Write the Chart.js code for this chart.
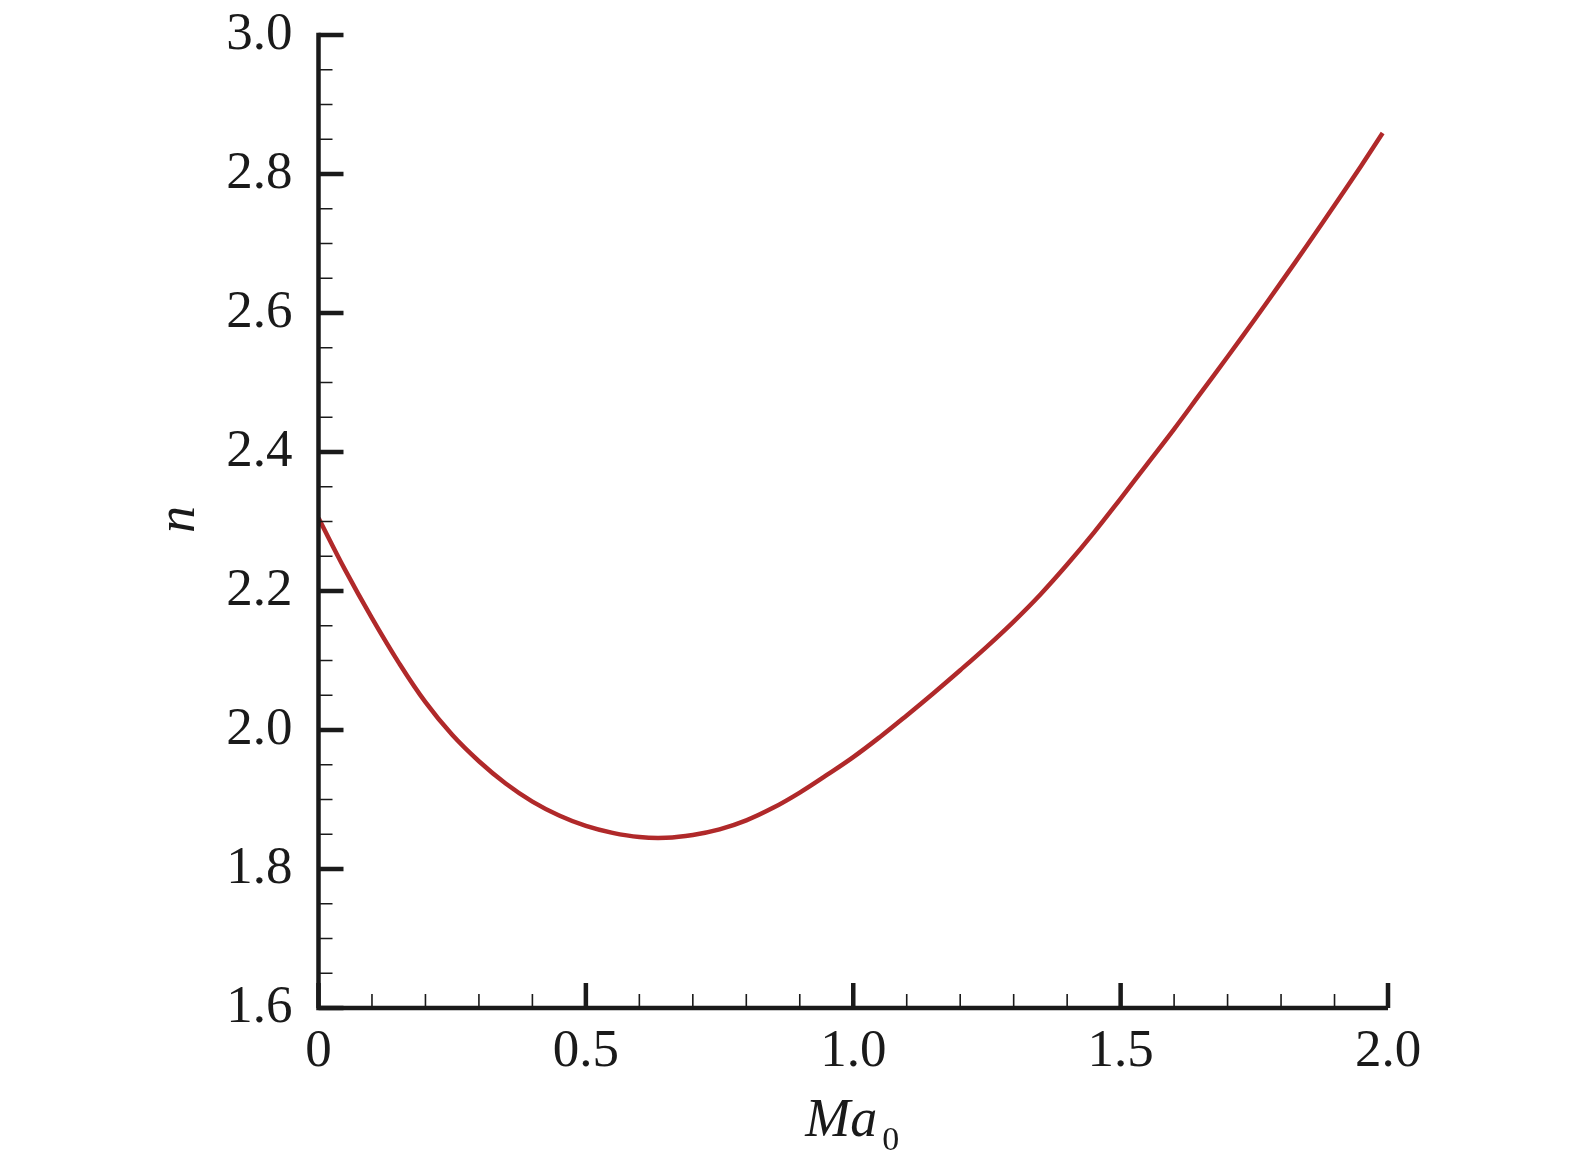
<!DOCTYPE html>
<html>
<head>
<meta charset="utf-8">
<script src="https://cdn.jsdelivr.net/npm/chart.js@4/dist/chart.umd.min.js"></script>
<style>
  html, body { margin: 0; padding: 0; background: #ffffff; }
  #wrap { width: 1575px; height: 1173px; }
</style>
</head>
<body>
<div id="wrap"><canvas id="c" width="1575" height="1173"></canvas></div>
<script>
// ---- data ----
const maValues = [0, 0.05, 0.1, 0.15, 0.2, 0.25, 0.3, 0.35, 0.4, 0.45, 0.5, 0.55, 0.6, 0.65, 0.7, 0.75, 0.8, 0.85, 0.9, 0.95,
                  1.0, 1.05, 1.1, 1.15, 1.2, 1.25, 1.3, 1.35, 1.4, 1.45, 1.5, 1.55, 1.6, 1.65, 1.7, 1.75, 1.8, 1.85, 1.9, 1.95, 1.99];
const nValues  = [2.305, 2.230, 2.161, 2.097, 2.040, 1.993, 1.955, 1.923, 1.897, 1.877, 1.862, 1.852, 1.846, 1.845, 1.849, 1.857, 1.870, 1.888, 1.910, 1.935,
                  1.961, 1.990, 2.021, 2.053, 2.086, 2.120, 2.156, 2.195, 2.238, 2.284, 2.333, 2.383, 2.433, 2.485, 2.537, 2.590, 2.644, 2.699, 2.755, 2.812, 2.859];

const xMajorTicks = [0, 0.5, 1.0, 1.5, 2.0];
const xTickLabels = ['0', '0.5', '1.0', '1.5', '2.0'];
const xMinorTicks = [0.1, 0.2, 0.3, 0.4, 0.6, 0.7, 0.8, 0.9, 1.1, 1.2, 1.3, 1.4, 1.6, 1.7, 1.8, 1.9];
const yMajorTicks = [1.6, 1.8, 2.0, 2.2, 2.4, 2.6, 2.8, 3.0];
const yTickLabels = ['1.6', '1.8', '2.0', '2.2', '2.4', '2.6', '2.8', '3.0'];
const yMinorTicks = [1.65, 1.7, 1.75, 1.85, 1.9, 1.95, 2.05, 2.1, 2.15, 2.25, 2.3, 2.35, 2.45, 2.5, 2.55, 2.65, 2.7, 2.75, 2.85, 2.9, 2.95];

const xTitleMain = 'Ma';
const xTitleSub = '0';
const yTitle = 'n';

// ---- styling ----
const SERIF = '"Liberation Serif", "Times New Roman", "DejaVu Serif", serif';
const INK = '#1a1a1a';
const LINE_COLOR = '#b0292a';

const axisPlugin = {
  id: 'axisDecor',
  afterDraw(chart) {
    const ctx = chart.ctx;
    const xs = chart.scales.x, ys = chart.scales.y;
    const area = chart.chartArea;
    const x0 = xs.getPixelForValue(xs.min);
    const x1 = xs.getPixelForValue(xs.max);
    const y0 = ys.getPixelForValue(ys.min);
    const y1 = ys.getPixelForValue(ys.max);
    ctx.save();
    ctx.strokeStyle = INK;
    ctx.lineCap = 'butt';
    // axis lines
    ctx.lineWidth = 4.5;
    ctx.beginPath();
    ctx.moveTo(x0, y1 - 2.25);
    ctx.lineTo(x0, y0 + 2.25);
    ctx.moveTo(x0 - 2.25, y0);
    ctx.lineTo(x1, y0);
    ctx.stroke();
    // major ticks (inward)
    ctx.lineWidth = 4.5;
    ctx.beginPath();
    yMajorTicks.forEach(v => { const p = ys.getPixelForValue(v); ctx.moveTo(x0, p); ctx.lineTo(x0 + 25, p); });
    xMajorTicks.forEach(v => { const p = xs.getPixelForValue(v); ctx.moveTo(p, y0); ctx.lineTo(p, y0 - 25); });
    ctx.stroke();
    // minor ticks
    ctx.lineWidth = 1.6;
    ctx.beginPath();
    yMinorTicks.forEach(v => { const p = ys.getPixelForValue(v); ctx.moveTo(x0, p); ctx.lineTo(x0 + 14, p); });
    xMinorTicks.forEach(v => { const p = xs.getPixelForValue(v); ctx.moveTo(p, y0); ctx.lineTo(p, y0 - 14); });
    ctx.stroke();

    // y title: italic n, rotated
    ctx.fillStyle = INK;
    const yFont = 54;
    ctx.save();
    ctx.translate(area.left - 136, (area.top + area.bottom) / 2 - 2);
    ctx.rotate(-Math.PI / 2);
    ctx.font = 'italic ' + yFont + 'px ' + SERIF;
    ctx.textAlign = 'center';
    ctx.textBaseline = 'alphabetic';
    ctx.fillText(yTitle, 0, yFont * 0.22);
    ctx.restore();

    // x title: italic Ma with upright subscript 0
    const mainSize = 54, subSize = 34;
    ctx.font = 'italic ' + mainSize + 'px ' + SERIF;
    const wMain = ctx.measureText(xTitleMain).width;
    ctx.font = subSize + 'px ' + SERIF;
    const wSub = ctx.measureText(xTitleSub).width;
    const gap = 5;
    const total = wMain + gap + wSub;
    const cx = (area.left + area.right) / 2 - 1;
    const base = area.bottom + 128;
    ctx.textAlign = 'left';
    ctx.textBaseline = 'alphabetic';
    ctx.font = 'italic ' + mainSize + 'px ' + SERIF;
    ctx.fillText(xTitleMain, cx - total / 2, base);
    ctx.font = subSize + 'px ' + SERIF;
    ctx.fillText(xTitleSub, cx - total / 2 + wMain + gap, base + 14);
    ctx.restore();
  }
};

const points = maValues.map((m, i) => ({ x: m, y: nValues[i] }));

new Chart(document.getElementById('c'), {
  type: 'line',
  data: {
    datasets: [{
      label: 'n',
      data: points,
      borderColor: LINE_COLOR,
      backgroundColor: LINE_COLOR,
      borderWidth: 4.5,
      pointRadius: 0,
      fill: false,
      tension: 0.4
    }]
  },
  options: {
    responsive: false,
    maintainAspectRatio: false,
    animation: false,
    events: [],
    layout: { padding: { left: 0, top: 35, right: 187, bottom: 0 } },
    plugins: { legend: { display: false }, tooltip: { enabled: false }, title: { display: false } },
    scales: {
      x: {
        type: 'linear',
        min: 0, max: 2.0,
        afterFit(scale) { scale.height = 165; scale.paddingLeft = 0; scale.paddingRight = 0; },
        afterBuildTicks(scale) { scale.ticks = xMajorTicks.map(v => ({ value: v })); },
        grid: { display: false, drawTicks: false },
        border: { display: false },
        ticks: {
          padding: 12,
          color: INK,
          font: { family: SERIF, size: 53 },
          maxRotation: 0,
          callback: (v) => { const i = xMajorTicks.indexOf(v); return i >= 0 ? xTickLabels[i] : ''; }
        }
      },
      y: {
        type: 'linear',
        min: 1.6, max: 3.0,
        afterFit(scale) { scale.width = 318.5; scale.paddingTop = 0; scale.paddingBottom = 0; },
        afterBuildTicks(scale) { scale.ticks = yMajorTicks.map(v => ({ value: v })); },
        grid: { display: false, drawTicks: false },
        border: { display: false },
        ticks: {
          padding: 26,
          color: INK,
          font: { family: SERIF, size: 53 },
          callback: (v) => { const i = yMajorTicks.findIndex(t => Math.abs(t - v) < 1e-9); return i >= 0 ? yTickLabels[i] : ''; }
        }
      }
    }
  },
  plugins: [axisPlugin]
});
</script>
</body>
</html>
